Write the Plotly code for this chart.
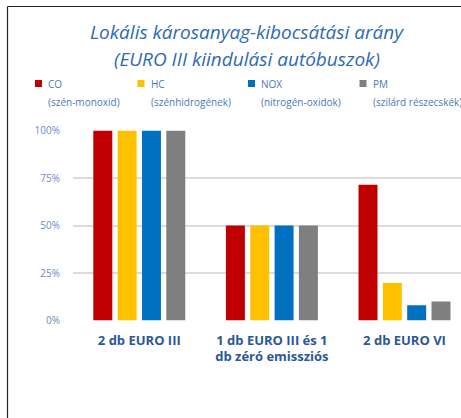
import plotly.graph_objects as go

W, H = 461, 418

categories = ["2 db EURO III", "1 db EURO III és 1<br>db zéró emissziós", "2 db EURO VI"]
pollutants = ["CO", "HC", "NOX", "PM"]
pollutant_desc = ["(szén-monoxid)", "(szénhidrogének)", "(nitrogén-oxidok)", "(szilárd részecskék)"]
colors = ["#C00000", "#FFC000", "#0070C0", "#7F7F7F"]

co = [1.00, 0.50, 0.714]
hc = [1.00, 0.50, 0.197]
nox = [1.00, 0.50, 0.08]
pm = [1.00, 0.50, 0.10]
series = [co, hc, nox, pm]

tick_vals = [0, 0.25, 0.5, 0.75, 1.0]
tick_text = ["0%", "25%", "50%", "75%", "100%"]

title_lines = ["Lokális károsanyag-kibocsátási arány", "(EURO III kiindulási autóbuszok)"]

FONT = "Open Sans"


def px_x(px):
    return px / W


def px_y(py):
    return 1 - py / H


fig = go.Figure()
for name, vals, col in zip(pollutants, series, colors):
    fig.add_trace(go.Bar(
        x=list(range(len(categories))), y=vals, name=name,
        marker=dict(color=col, line=dict(width=0)),
        showlegend=False,
    ))

# plot area: left edge 73px, bottom 320.5px, top 130.5px
x0_px, y_bot, y_top = 73, 320.5, 130.5
n = len(categories)
cat_w = 132.6
x_end = -0.5 + (W - x0_px) / cat_w

shapes = [
    # outer frame (left and top edges)
    dict(type="line", xref="paper", yref="paper", x0=px_x(7.5), x1=px_x(7.5),
         y0=-0.1, y1=px_y(6.5), line=dict(color="#262626", width=1.2)),
    dict(type="line", xref="paper", yref="paper", x0=px_x(7.5), x1=1.1,
         y0=px_y(6.5), y1=px_y(6.5), line=dict(color="#262626", width=1.2)),
]

annotations = []
# chart title, two lines
for i, (line, cy) in enumerate(zip(title_lines, [32.5, 59])):
    annotations.append(dict(text=line, xref="paper", yref="paper", x=px_x(247), y=px_y(cy),
                            xanchor="center", yanchor="middle", showarrow=False,
                            font=dict(family=FONT, size=19, color="#2E6AB3", style="italic")))

# custom legend: small square + two-line label
leg_sq_x = [35, 137.5, 248, 359.5]
leg_txt_x = [46, 148.5, 259, 371]
for i, (name, desc, col) in enumerate(zip(pollutants, pollutant_desc, colors)):
    shapes.append(dict(type="rect", xref="paper", yref="paper",
                       x0=px_x(leg_sq_x[i]), x1=px_x(leg_sq_x[i] + 7),
                       y0=px_y(87), y1=px_y(80), fillcolor=col, line=dict(width=0)))
    annotations.append(dict(text=name, xref="paper", yref="paper", x=px_x(leg_txt_x[i]),
                            y=px_y(83.5), xanchor="left", yanchor="middle", showarrow=False,
                            font=dict(family=FONT, size=10, color="#4C79B8")))
    annotations.append(dict(text=desc, xref="paper", yref="paper", x=px_x(leg_txt_x[i]),
                            y=px_y(101.5), xanchor="left", yanchor="middle", showarrow=False,
                            font=dict(family=FONT, size=10, color="#4C79B8")))

fig.update_layout(
    width=W, height=H,
    margin=dict(l=0, r=0, t=0, b=0, pad=0),
    paper_bgcolor="white", plot_bgcolor="white",
    barmode="group", bargap=0.266, bargroupgap=0.22,
    xaxis=dict(
        domain=[x0_px / W, 1], range=[-0.5, x_end], automargin=False,
        tickvals=list(range(n)), ticktext=[f"<b>{c}</b>" for c in categories],
        tickfont=dict(family=FONT, size=13, color="#2B5797"),
        showgrid=False, zeroline=False, showline=False, ticks="",
        ticklabelstandoff=10,
    ),
    yaxis=dict(
        domain=[px_y(y_bot), px_y(y_top)], range=[0, 1], automargin=False,
        tickvals=tick_vals, ticktext=tick_text,
        tickfont=dict(family=FONT, size=10, color="#6A8CC2"),
        showgrid=True, gridcolor="#DCDCDC", gridwidth=1.5,
        zeroline=False, showline=False, ticks="", ticklabelstandoff=12,
    ),
    shapes=shapes,
    annotations=annotations,
)

fig.write_html("out.html")
